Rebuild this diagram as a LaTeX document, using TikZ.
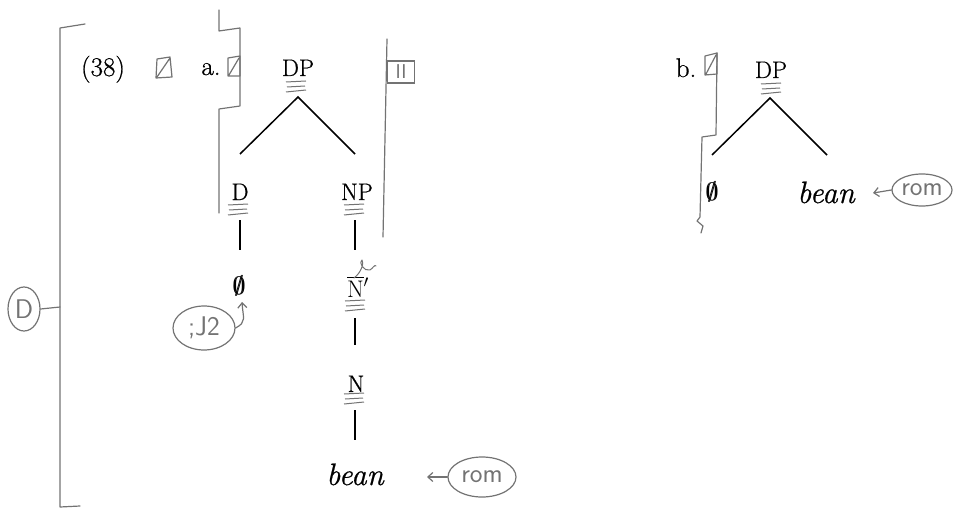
\documentclass[tikz,border=0pt]{standalone}
\usepackage{amssymb}
\usepackage{fontspec}
\newfontfamily\prnt{Latin Modern Roman}[FakeBold=0.7]
\usetikzlibrary{arrows.meta,shapes.geometric}
\definecolor{pencil}{gray}{0.45}
\newcommand{\fakebold}[1]{\rlap{#1}\kern0.9pt#1}
\begin{document}
\begin{tikzpicture}[x=1pt,y=-1pt,
  tree/.style={line width=1.5pt, draw=black},
  lab/.style={font=\prnt\fontsize{24}{28}\selectfont, inner sep=0pt, anchor=base},
  exlab/.style={font=\prnt\fontsize{27}{30}\selectfont, inner sep=0pt, anchor=base},
  leaf/.style={font=\prnt\fontsize{31}{34}\selectfont\itshape, inner sep=0pt, anchor=base},
  nullsym/.style={font=\fontsize{27}{30}\selectfont, inner sep=0pt, anchor=base},
  pen/.style={draw=pencil, line width=1.2pt, line join=round, line cap=round},
  oval/.style={ellipse, draw=pencil, line width=1.2pt, text=pencil, font=\fontsize{27}{30}\selectfont\sffamily, inner sep=0pt},
  ul/.pic={\draw[draw=pencil, line width=1pt] (-10,0) -- (10,-1) (-9,5) -- (9,4) (-10,10) -- (10,8);},
  handarrow/.style={pen, -{Straight Barb[length=5pt,width=9pt]}}
]
\useasboundingbox (0,0) rectangle (953,508);

% ---------- left editorial bracket and circled D ----------
\coordinate (brtop) at (60,28);
\coordinate (brmid) at (60,307);
\coordinate (brbot) at (60,507);
\draw[pen] (85,24) -- (brtop) -- (brmid) -- (brbot) -- (80,506);
\node[oval, minimum width=32pt, minimum height=44pt] (circD) at (24,309) {D};
\draw[pen] (circD.east) -- (brmid);

% ---------- labels (38), a., b. ----------
\node[exlab] (ex) at (103,76) {(38)};
\node[exlab] (la) at (211,75) {a.};
\node[exlab] (lb) at (686,77) {b.};

% pencil boxes
\draw[pen] (157,59) -- (170,57) -- (172,77) -- (156,78) -- cycle (157,77) -- (170,58);
\draw[pen] (228,58) -- (240,56) -- (240,76) -- (228,76) -- cycle (229,75) -- (239,58);
\draw[pen] (705,56) -- (717,53) -- (717,74) -- (705,75) -- cycle (706,74) -- (716,55);

% pencil bracket left of tree a
\draw[pen] (219,10) -- (219,31) -- (240,28) -- (240,106) -- (219,109) -- (219,213);
% pencil line right of tree a with flag
\draw[pen] (387,39) -- (383,237);
\node[draw=pencil, line width=1.2pt, text=pencil, font=\fontsize{20}{22}\selectfont\sffamily,
      minimum width=27pt, minimum height=22pt, inner sep=0pt] (flag) at (401,72) {II};
% pencil line left of tree b
\draw[pen] (717,53) -- (716,135) -- (702,137) -- (700,217) -- (697,221) -- (703,226) -- (701,233);

% ---------- tree a ----------
\node[lab] (dpa) at (298,76) {DP};
\node[lab] (d) at (240,200) {D};
\node[lab] (np) at (357,200) {NP};
\node[nullsym] (nulla) at (239,294) {\fakebold{$\emptyset$}};
\node[lab] (nbar) at (358,297) {$\overline{\mathrm{N}}{}'$};
\node[lab] (n) at (356,392) {N};
\node[leaf] (beana) at (355,485) {bean};

\pic at (296,82) {ul};
\pic at (238,205) {ul};
\pic at (354,205) {ul};
\pic at (355,301) {ul};
\pic at (354,394) {ul};

\coordinate (a-apex) at (298,97);
\coordinate (a-l) at (240,154);
\coordinate (a-r) at (355,154);
\draw[tree] (a-l) -- (a-apex) -- (a-r);
\coordinate (d-bot) at (240,220);
\coordinate (nulla-top) at (240,250);
\draw[tree] (d-bot) -- (nulla-top);
\coordinate (np-bot) at (355,220);
\coordinate (nbar-top) at (355,250);
\draw[tree] (np-bot) -- (nbar-top);
\coordinate (nbar-bot) at (355,318);
\coordinate (n-top) at (355,345);
\draw[tree] (nbar-bot) -- (n-top);
\coordinate (n-bot) at (355,410);
\coordinate (beana-top) at (355,440);
\draw[tree] (n-bot) -- (beana-top);

% pencil scribble above N'
\draw[pen, line width=1pt] (354,278) .. controls (362,272) and (364,262) .. (362,260)
  .. controls (358,262) and (364,272) .. (370,270) .. controls (373,268) and (375,264) .. (376,266);

% ;J2 circled with arrow to null
\node[oval, minimum width=62pt, minimum height=44pt] (jj) at (204,328) {;J2};
\draw[handarrow] (jj.east) .. controls (247,322) and (243,318) .. (242,302);

% rom circled (tree a)
\node[oval, minimum width=68pt, minimum height=40pt] (roma) at (482,477) {rom};
\coordinate (roma-tip) at (427,477);
\draw[handarrow] (roma.west) -- (roma-tip);

% ---------- tree b ----------
\node[lab] (dpb) at (771,78) {DP};
\pic at (771,84) {ul};
\node[nullsym] (nullb) at (712,200) {\fakebold{$\emptyset$}};
\node[leaf] (beanb) at (826,203) {bean};
\coordinate (b-apex) at (770,98);
\coordinate (b-l) at (712,155);
\coordinate (b-r) at (827,155);
\draw[tree] (b-l) -- (b-apex) -- (b-r);

\node[oval, minimum width=60pt, minimum height=32pt] (romb) at (922,190) {rom};
\coordinate (romb-tip) at (873,193);
\draw[handarrow] (romb.west) -- (romb-tip);
\end{tikzpicture}
\end{document}
